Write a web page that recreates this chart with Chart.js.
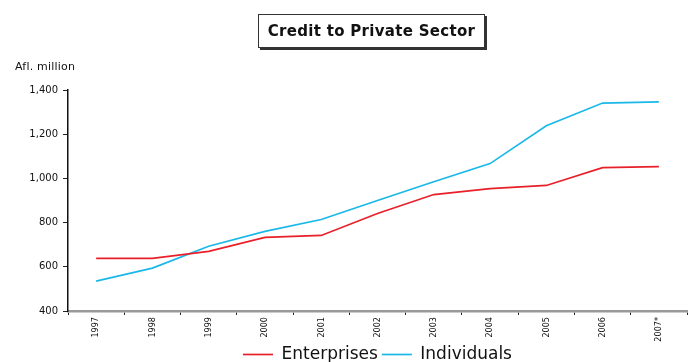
<!DOCTYPE html>
<html>
<head>
<meta charset="utf-8">
<script src="https://cdn.jsdelivr.net/npm/chart.js@4.4.1/dist/chart.umd.min.js"></script>
<style>
  html, body { margin: 0; padding: 0; background: #fff; }
  #wrap { position: relative; width: 695px; height: 362px; }
  #title {
    position: absolute; left: 258px; top: 14px; width: 225px; height: 32px;
    border: 1px solid #333; box-shadow: 2px 2px 0 #333; background: #fff;
    font: bold 15px "DejaVu Sans", sans-serif; color: #111; letter-spacing: 0.3px;
    display: flex; align-items: center; justify-content: center;
  }
  #unit {
    position: absolute; left: 15px; top: 60px;
    font: 11px "DejaVu Sans", sans-serif; color: #111; letter-spacing: 0.2px;
  }
  canvas { position: absolute; left: 0; top: 0; }
</style>
</head>
<body>
<div id="wrap">
  <canvas id="creditChart" width="695" height="362"></canvas>
  <div id="title">Credit to Private Sector</div>
  <div id="unit">Afl. million</div>
</div>
<script>
// Credit to private sector, Afl. million
const years = ['1997', '1998', '1999', '2000', '2001', '2002', '2003', '2004', '2005', '2006', '2007*'];
const enterprises = [638, 638, 670, 733, 742, 841, 927, 954, 968, 1049, 1053];
const individuals = [535, 594, 693, 760, 814, 900, 985, 1067, 1238, 1341, 1346];
const yTicks = [400, 600, 800, 1000, 1200, 1400];

const ctx = document.getElementById('creditChart').getContext('2d');

new Chart(ctx, {
    type: 'line',
    data: {
        labels: years,
        datasets: [
            {
                label: 'Enterprises',
                data: enterprises,
                borderColor: '#e8202a',
                backgroundColor: '#e8202a',
                borderWidth: 1.7,
                pointRadius: 0,
                tension: 0
            },
            {
                label: 'Individuals',
                data: individuals,
                borderColor: '#1ab8e8',
                backgroundColor: '#1ab8e8',
                borderWidth: 1.7,
                pointRadius: 0,
                tension: 0
            }
        ]
    },
    options: {
        responsive: false,
        animation: false,
        // legend is allowed to hang past the bottom edge so its text sits low
        layout: { padding: { left: 0, right: 8, top: 90, bottom: -11 } },
        plugins: {
            title: { display: false },
            tooltip: { enabled: false },
            legend: {
                position: 'bottom',
                fullSize: false,
                labels: {
                    usePointStyle: true,
                    pointStyle: 'line',
                    pointStyleWidth: 30,
                    boxHeight: 2,
                    padding: 4,
                    color: '#111',
                    font: { family: 'DejaVu Sans', size: 17 }
                }
            }
        },
        scales: {
            x: {
                offset: true,
                grid: {
                    offset: true,
                    drawOnChartArea: false,
                    drawTicks: true,
                    tickLength: 4,
                    color: '#222'
                },
                border: { color: '#999', width: 2.5 },
                ticks: {
                    minRotation: 90,
                    maxRotation: 90,
                    padding: 2,
                    color: '#111',
                    font: { family: 'DejaVu Sans Condensed', size: 9 }
                },
                afterFit: scale => { scale.height = 31; }
            },
            y: {
                min: 400,
                max: 1400,
                afterBuildTicks: scale => { scale.ticks = yTicks.map(v => ({ value: v })); },
                grid: {
                    drawOnChartArea: false,
                    drawTicks: true,
                    tickLength: 5,
                    color: '#222'
                },
                border: { color: '#111', width: 1.5 },
                ticks: {
                    padding: 5,
                    color: '#111',
                    font: { family: 'DejaVu Sans', size: 10 },
                    callback: v => v.toLocaleString('en-US')
                },
                afterFit: scale => { scale.width = 68; }
            }
        }
    }
});
</script>
</body>
</html>
